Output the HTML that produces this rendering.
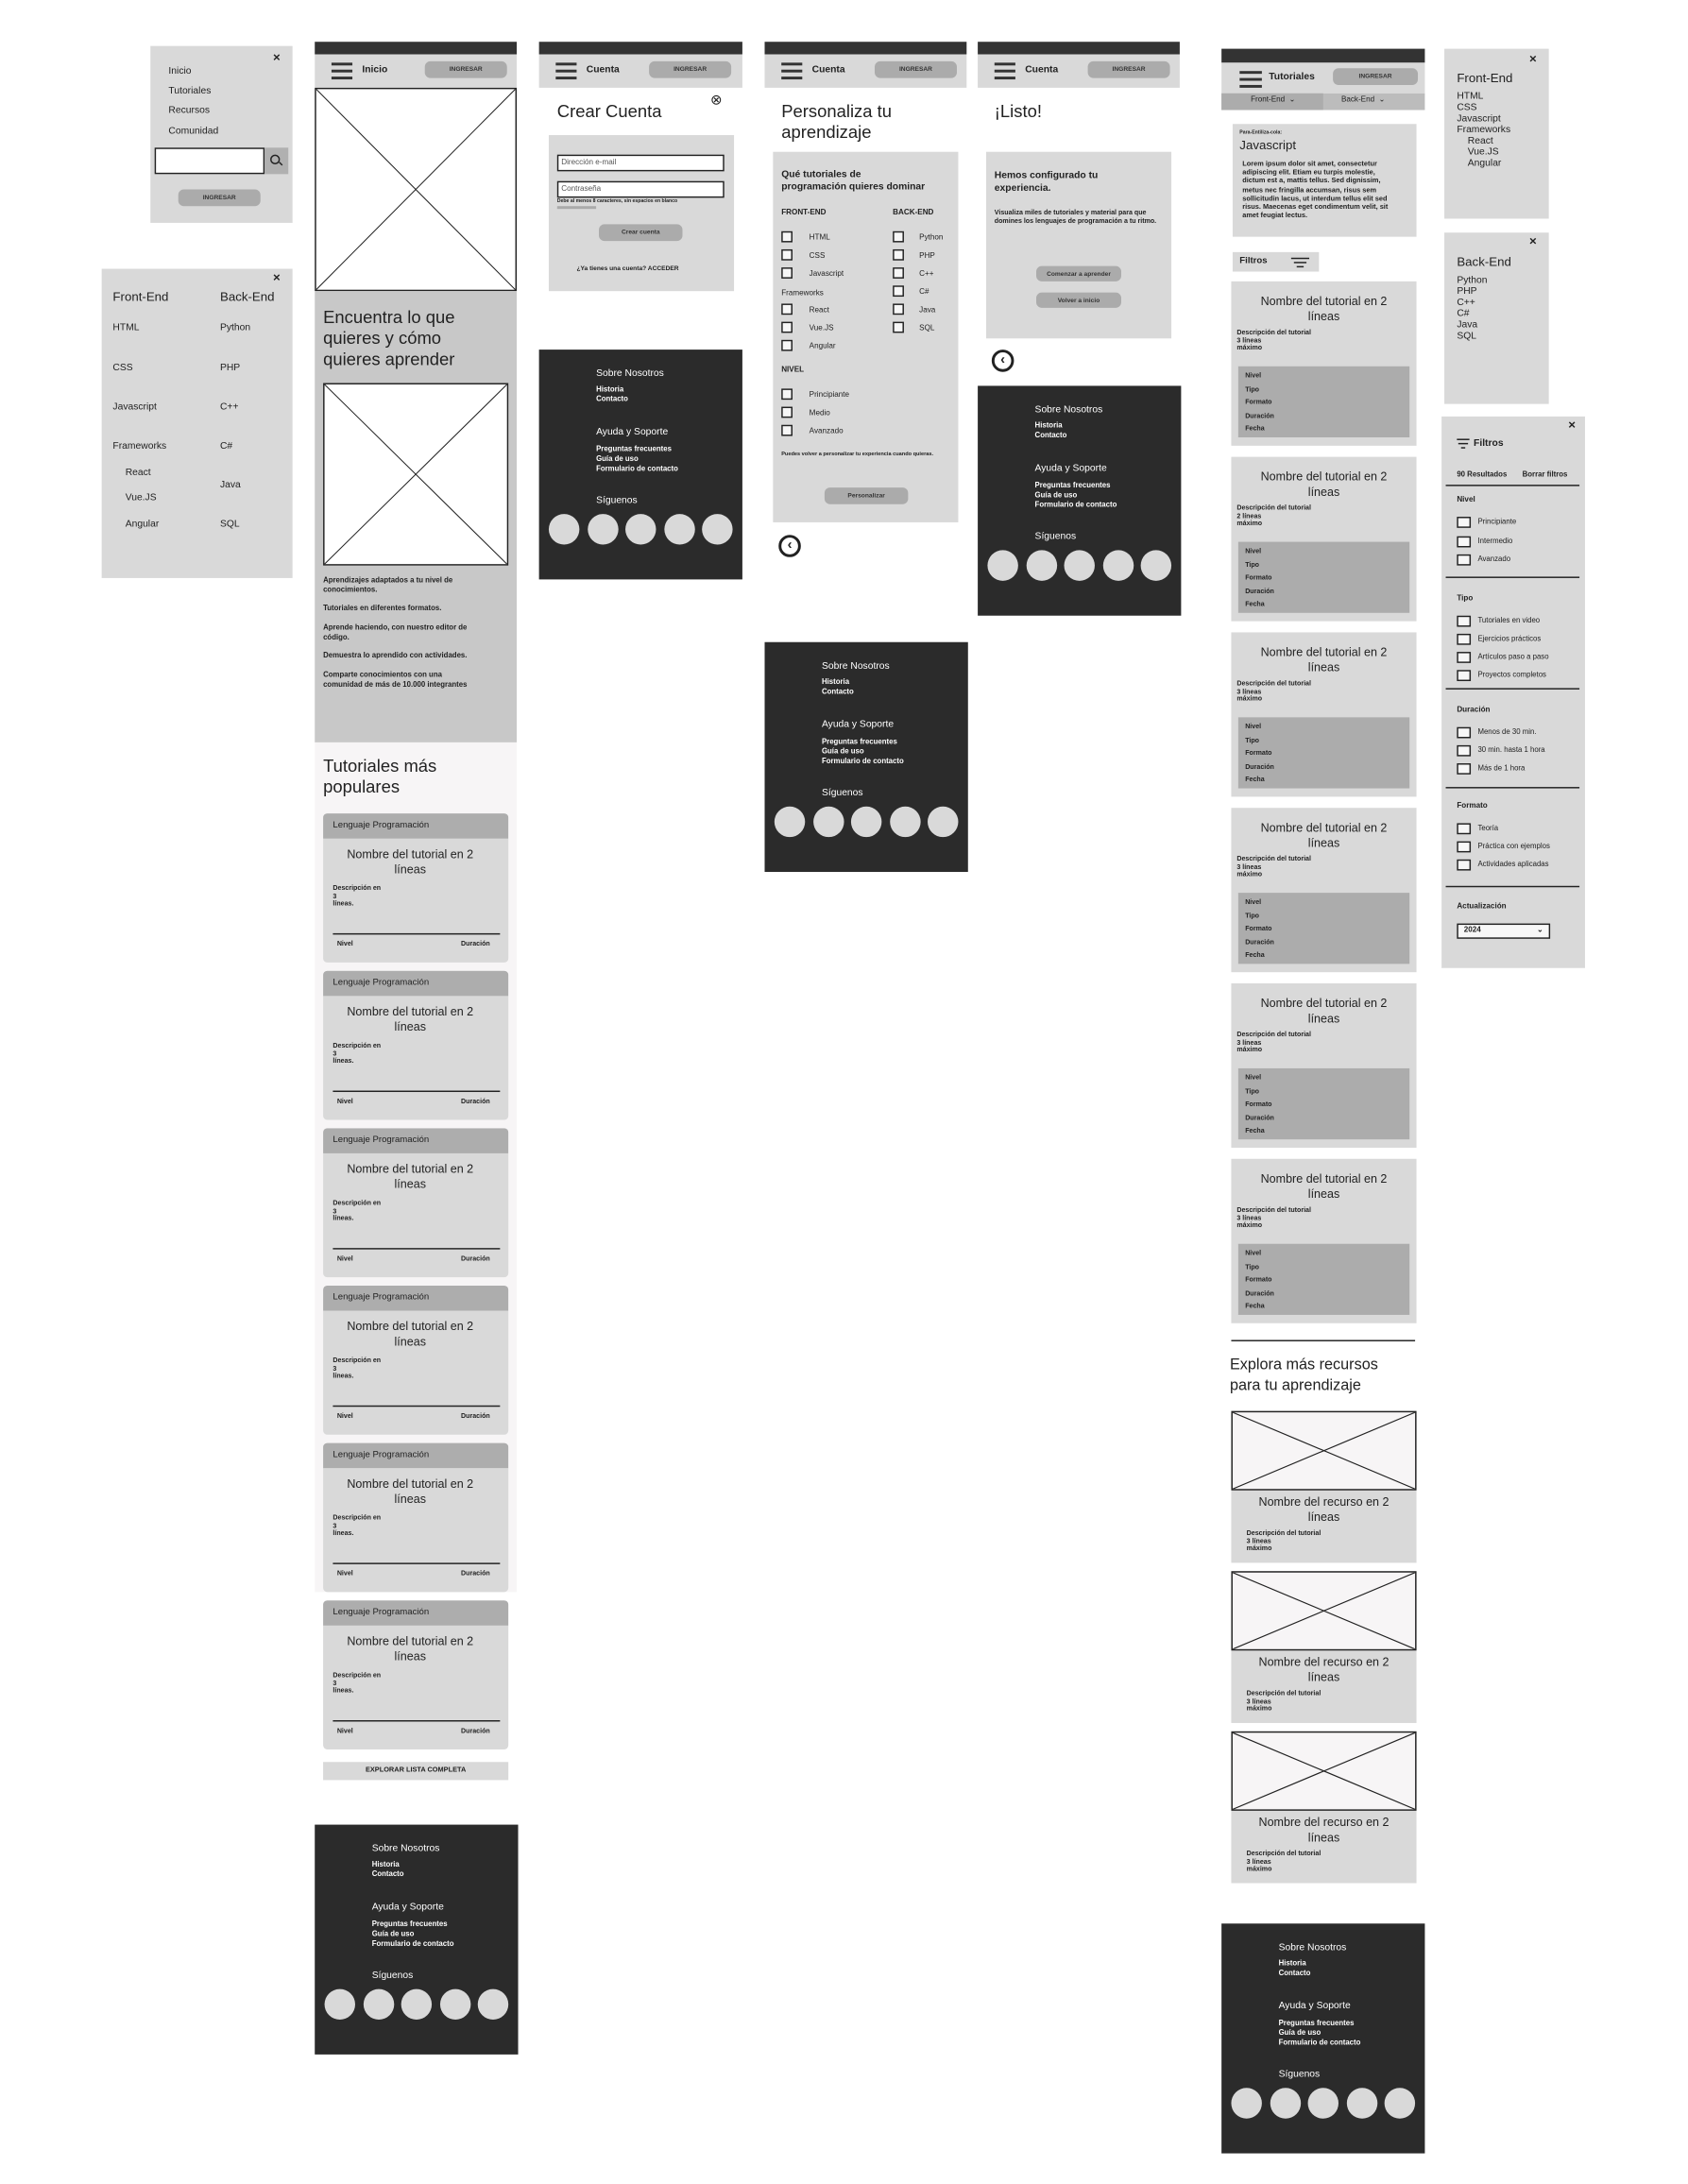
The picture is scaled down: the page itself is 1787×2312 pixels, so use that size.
<!DOCTYPE html>
<html><head><meta charset="utf-8">
<style>
html,body{margin:0;padding:0;background:#fff;}
body{width:1787px;height:2312px;overflow:hidden;position:relative;}
#s{position:absolute;left:0;top:0;width:1212px;height:1568px;transform:scale(1.4745);transform-origin:0 0;font-family:"Liberation Sans",sans-serif;color:#222;}
#s div{position:absolute;box-sizing:border-box;}
.p{background:#d9d9d9;}
.t{white-space:nowrap;line-height:1.15;}
.b{font-weight:bold;}
.btn{background:#ababab;border-radius:4px;text-align:center;font-weight:bold;font-size:4.5px;color:#333;}
.ft{background:#2b2b2b;color:#fff;}
.ft .c{width:22px;height:22px;border-radius:50%;background:#d9d9d9;}
.bar{background:#333;}
.hb{width:15px;height:2px;background:#333;}
.cb{width:8px;height:8px;border:1px solid #222;background:#f7f7f7;}
.x{font-weight:bold;font-size:9px;}
svg{position:absolute;}
</style></head><body><div id="s">

<div class="p" style="left:108px;top:33px;width:102px;height:127px;">
 <div class="t x" style="left:88px;top:3px;">×</div>
 <div class="t" style="left:13px;top:15px;font-size:7px;">Inicio</div>
 <div class="t" style="left:13px;top:29px;font-size:7px;">Tutoriales</div>
 <div class="t" style="left:13px;top:43px;font-size:7px;">Recursos</div>
 <div class="t" style="left:13px;top:58px;font-size:7px;">Comunidad</div>
 <div style="left:3px;top:73px;width:79px;height:19px;background:#fff;border:1px solid #222;"></div>
 <div style="left:82px;top:73px;width:17px;height:19px;background:#b0b0b0;"></div>
 <div style="left:86px;top:78px;width:7px;height:7px;border:1.3px solid #222;border-radius:50%;"></div>
 <div style="left:92px;top:84px;width:3px;height:1.3px;background:#222;transform:rotate(45deg);"></div>
 <div class="btn" style="left:20px;top:103px;width:59px;height:12px;line-height:12px;">INGRESAR</div>
</div>

<div class="p" style="left:73px;top:193px;width:137px;height:222px;font-size:7px;">
 <div class="t x" style="left:123px;top:1px;">×</div>
 <div class="t" style="left:8px;top:15px;font-size:9px;">Front-End</div>
 <div class="t" style="left:85px;top:15px;font-size:9px;">Back-End</div>
 <div class="t" style="left:8px;top:39px;">HTML</div>
 <div class="t" style="left:8px;top:68px;">CSS</div>
 <div class="t" style="left:8px;top:96px;">Javascript</div>
 <div class="t" style="left:8px;top:124px;">Frameworks</div>
 <div class="t" style="left:17px;top:143px;">React</div>
 <div class="t" style="left:17px;top:161px;">Vue.JS</div>
 <div class="t" style="left:17px;top:180px;">Angular</div>
 <div class="t" style="left:85px;top:39px;">Python</div>
 <div class="t" style="left:85px;top:68px;">PHP</div>
 <div class="t" style="left:85px;top:96px;">C++</div>
 <div class="t" style="left:85px;top:124px;">C#</div>
 <div class="t" style="left:85px;top:152px;">Java</div>
 <div class="t" style="left:85px;top:180px;">SQL</div>
</div>

<div class="bar" style="left:226px;top:30px;width:145px;height:9px;"></div>
<div class="p" style="left:226px;top:39px;width:145px;height:24px;">
 <div class="hb" style="left:12px;top:6px;"></div><div class="hb" style="left:12px;top:11px;"></div><div class="hb" style="left:12px;top:16px;"></div>
 <div class="t b" style="left:34px;top:8px;font-size:7px;">Inicio</div>
 <div class="btn" style="left:79px;top:5px;width:59px;height:12px;line-height:12px;">INGRESAR</div>
</div>
<div style="left:226px;top:63px;width:145px;height:146px;background:#fff;border:1px solid #222;">
 <svg width="143" height="144" viewBox="0 0 100 100" preserveAspectRatio="none"><line x1="0" y1="0" x2="100" y2="100" stroke="#222" stroke-width="0.7" vector-effect="non-scaling-stroke"/><line x1="100" y1="0" x2="0" y2="100" stroke="#222" stroke-width="0.7" vector-effect="non-scaling-stroke"/></svg>
</div>
<div style="left:226px;top:209px;width:145px;height:324px;background:#c8c8c8;">
 <div style="left:6px;top:12px;font-size:12.5px;line-height:15px;width:120px;">Encuentra lo que<br>quieres y cómo<br>quieres aprender</div>
 <div style="left:6px;top:66px;width:133px;height:131px;background:#fff;border:1px solid #222;">
  <svg width="131" height="129" viewBox="0 0 100 100" preserveAspectRatio="none"><line x1="0" y1="0" x2="100" y2="100" stroke="#222" stroke-width="0.7" vector-effect="non-scaling-stroke"/><line x1="100" y1="0" x2="0" y2="100" stroke="#222" stroke-width="0.7" vector-effect="non-scaling-stroke"/></svg>
 </div>
 <div class="b" style="left:6px;top:205px;width:112px;font-size:5.3px;line-height:6.8px;">
  Aprendizajes adaptados a tu nivel de conocimientos.<br><br>Tutoriales en diferentes formatos.<br><br>Aprende haciendo, con nuestro editor de código.<br><br>Demuestra lo aprendido con actividades.<br><br>Comparte conocimientos con una comunidad de más de 10.000 integrantes
 </div>
</div>
<div style="left:226px;top:533px;width:145px;height:610px;background:#f7f5f6;">
 <div style="left:6px;top:10px;font-size:12.5px;line-height:15px;">Tutoriales más<br>populares</div>
</div>

<div id="hc"></div>

<div class="p" style="left:232px;top:1265px;width:133px;height:13px;text-align:center;font-size:5px;line-height:13px;font-weight:bold;">EXPLORAR LISTA COMPLETA</div>

<div class="bar" style="left:387px;top:30px;width:146px;height:9px;"></div>
<div class="p" style="left:387px;top:39px;width:146px;height:24px;">
 <div class="hb" style="left:12px;top:6px;"></div><div class="hb" style="left:12px;top:11px;"></div><div class="hb" style="left:12px;top:16px;"></div>
 <div class="t b" style="left:34px;top:8px;font-size:7px;">Cuenta</div>
 <div class="btn" style="left:79px;top:5px;width:59px;height:12px;line-height:12px;">INGRESAR</div>
</div>
<div class="t" style="left:400px;top:73px;font-size:12.5px;">Crear Cuenta</div>
<div class="t" style="left:510px;top:67px;font-size:10px;">⊗</div>
<div class="p" style="left:394px;top:97px;width:133px;height:112px;">
 <div style="left:6px;top:14px;width:120px;height:12px;background:#fff;border:1px solid #222;font-size:5.5px;line-height:10px;padding-left:2px;color:#555;">Dirección e-mail</div>
 <div style="left:6px;top:33px;width:120px;height:12px;background:#fff;border:1px solid #222;font-size:5.5px;line-height:10px;padding-left:2px;color:#555;">Contraseña</div>
 <div class="t b" style="left:6px;top:45px;font-size:3.5px;">Debe al menos 8 caracteres, sin espacios en blanco</div>
 <div style="left:6px;top:51px;width:28px;height:2px;background:#aaa;"></div>
 <div class="btn" style="left:36px;top:64px;width:60px;height:12px;line-height:12px;">Crear cuenta</div>
 <div class="t b" style="left:20px;top:93px;font-size:4.5px;">¿Ya tienes una cuenta? ACCEDER</div>
</div>

<div class="bar" style="left:549px;top:30px;width:145px;height:9px;"></div>
<div class="p" style="left:549px;top:39px;width:145px;height:24px;">
 <div class="hb" style="left:12px;top:6px;"></div><div class="hb" style="left:12px;top:11px;"></div><div class="hb" style="left:12px;top:16px;"></div>
 <div class="t b" style="left:34px;top:8px;font-size:7px;">Cuenta</div>
 <div class="btn" style="left:79px;top:5px;width:59px;height:12px;line-height:12px;">INGRESAR</div>
</div>
<div style="left:561px;top:73px;font-size:12.5px;line-height:15px;">Personaliza tu<br>aprendizaje</div>
<div class="p" style="left:555px;top:109px;width:133px;height:266px;font-size:5.5px;">
 <div class="b" style="left:6px;top:13px;font-size:7px;line-height:8.5px;">Qué tutoriales de<br>programación quieres dominar</div>
 <div class="t b" style="left:6px;top:41px;">FRONT-END</div>
 <div class="t b" style="left:86px;top:41px;">BACK-END</div>
 <div class="cb" style="left:6px;top:57px;"></div><div class="t" style="left:26px;top:59px;">HTML</div>
 <div class="cb" style="left:6px;top:70px;"></div><div class="t" style="left:26px;top:72px;">CSS</div>
 <div class="cb" style="left:6px;top:83px;"></div><div class="t" style="left:26px;top:85px;">Javascript</div>
 <div class="t" style="left:6px;top:99px;">Frameworks</div>
 <div class="cb" style="left:6px;top:109px;"></div><div class="t" style="left:26px;top:111px;">React</div>
 <div class="cb" style="left:6px;top:122px;"></div><div class="t" style="left:26px;top:124px;">Vue.JS</div>
 <div class="cb" style="left:6px;top:135px;"></div><div class="t" style="left:26px;top:137px;">Angular</div>
 <div class="cb" style="left:86px;top:57px;"></div><div class="t" style="left:105px;top:59px;">Python</div>
 <div class="cb" style="left:86px;top:70px;"></div><div class="t" style="left:105px;top:72px;">PHP</div>
 <div class="cb" style="left:86px;top:83px;"></div><div class="t" style="left:105px;top:85px;">C++</div>
 <div class="cb" style="left:86px;top:96px;"></div><div class="t" style="left:105px;top:98px;">C#</div>
 <div class="cb" style="left:86px;top:109px;"></div><div class="t" style="left:105px;top:111px;">Java</div>
 <div class="cb" style="left:86px;top:122px;"></div><div class="t" style="left:105px;top:124px;">SQL</div>
 <div class="t b" style="left:6px;top:154px;">NIVEL</div>
 <div class="cb" style="left:6px;top:170px;"></div><div class="t" style="left:26px;top:172px;">Principiante</div>
 <div class="cb" style="left:6px;top:183px;"></div><div class="t" style="left:26px;top:185px;">Medio</div>
 <div class="cb" style="left:6px;top:196px;"></div><div class="t" style="left:26px;top:198px;">Avanzado</div>
 <div class="b" style="left:6px;top:215px;font-size:3.8px;line-height:5px;width:125px;">Puedes volver a personalizar tu experiencia cuando quieras.</div>
 <div class="btn" style="left:37px;top:241px;width:60px;height:12px;line-height:12px;">Personalizar</div>
</div>
<div style="left:559px;top:384px;width:16px;height:16px;border:2px solid #222;border-radius:50%;font-size:10px;line-height:11px;text-align:center;font-weight:bold;">‹</div>

<div class="bar" style="left:702px;top:30px;width:145px;height:9px;"></div>
<div class="p" style="left:702px;top:39px;width:145px;height:24px;">
 <div class="hb" style="left:12px;top:6px;"></div><div class="hb" style="left:12px;top:11px;"></div><div class="hb" style="left:12px;top:16px;"></div>
 <div class="t b" style="left:34px;top:8px;font-size:7px;">Cuenta</div>
 <div class="btn" style="left:79px;top:5px;width:59px;height:12px;line-height:12px;">INGRESAR</div>
</div>
<div class="t" style="left:714px;top:73px;font-size:12.5px;">¡Listo!</div>
<div class="p" style="left:708px;top:109px;width:133px;height:134px;">
 <div class="b" style="left:6px;top:14px;font-size:7px;line-height:8.5px;">Hemos configurado tu<br>experiencia.</div>
 <div class="b" style="left:6px;top:42px;font-size:4.8px;line-height:5.9px;width:124px;">Visualiza miles de tutoriales y material para que domines los lenguajes de programación a tu ritmo.</div>
 <div class="btn" style="left:36px;top:82px;width:61px;height:11px;line-height:11px;">Comenzar a aprender</div>
 <div class="btn" style="left:36px;top:101px;width:61px;height:11px;line-height:11px;">Volver a inicio</div>
</div>
<div style="left:712px;top:251px;width:16px;height:16px;border:2px solid #222;border-radius:50%;font-size:10px;line-height:11px;text-align:center;font-weight:bold;">‹</div>

<div class="bar" style="left:877px;top:35px;width:146px;height:10px;"></div>
<div class="p" style="left:877px;top:45px;width:146px;height:22px;">
 <div class="hb" style="left:13px;top:6px;width:16px;"></div><div class="hb" style="left:13px;top:11px;width:16px;"></div><div class="hb" style="left:13px;top:16px;width:16px;"></div>
 <div class="t b" style="left:34px;top:7px;font-size:7px;">Tutoriales</div>
 <div class="btn" style="left:80px;top:4px;width:61px;height:12px;line-height:12px;">INGRESAR</div>
</div>
<div style="left:877px;top:67px;width:146px;height:12px;background:#bcbcbc;">
 <div style="left:0;top:0;width:73px;height:12px;background:#acacac;"></div>
 <div class="t" style="left:21px;top:2px;font-size:5.5px;">Front-End &nbsp;⌄</div>
 <div class="t" style="left:86px;top:2px;font-size:5.5px;">Back-End &nbsp;⌄</div>
</div>
<div class="p" style="left:885px;top:89px;width:132px;height:81px;">
 <div class="t b" style="left:5px;top:4px;font-size:3.5px;">Para-Entiliza-cola:</div>
 <div class="t" style="left:5px;top:10px;font-size:9px;">Javascript</div>
 <div class="b" style="left:7px;top:26px;font-size:5px;line-height:6.2px;width:112px;">Lorem ipsum dolor sit amet, consectetur adipiscing elit. Etiam eu turpis molestie, dictum est a, mattis tellus. Sed dignissim, metus nec fringilla accumsan, risus sem sollicitudin lacus, ut interdum tellus elit sed risus. Maecenas eget condimentum velit, sit amet feugiat lectus.</div>
</div>
<div class="p" style="left:885px;top:181px;width:62px;height:14px;">
 <div class="t b" style="left:5px;top:3px;font-size:6.5px;">Filtros</div>
 <div style="left:42px;top:4px;width:13px;height:1.2px;background:#222;"></div>
 <div style="left:44px;top:7px;width:9px;height:1.2px;background:#222;"></div>
 <div style="left:46px;top:10px;width:5px;height:1.2px;background:#222;"></div>
</div>
<div id="tc"></div>

<div style="left:884px;top:962px;width:132px;height:1px;background:#222;"></div>
<div style="left:883px;top:973px;font-size:11px;line-height:14.5px;">Explora más recursos<br>para tu aprendizaje</div>
<div id="rc"></div>

<div class="p" style="left:1037px;top:35px;width:75px;height:122px;font-size:7px;line-height:8px;">
 <div class="t x" style="left:61px;top:2px;">×</div>
 <div class="t" style="left:9px;top:16px;font-size:9px;">Front-End</div>
 <div style="left:9px;top:31px;">HTML<br>CSS<br>Javascript<br>Frameworks<br>&nbsp;&nbsp;&nbsp;&nbsp;React<br>&nbsp;&nbsp;&nbsp;&nbsp;Vue.JS<br>&nbsp;&nbsp;&nbsp;&nbsp;Angular</div>
</div>
<div class="p" style="left:1037px;top:167px;width:75px;height:123px;font-size:7px;line-height:8px;">
 <div class="t x" style="left:61px;top:1px;">×</div>
 <div class="t" style="left:9px;top:16px;font-size:9px;">Back-End</div>
 <div style="left:9px;top:31px;">Python<br>PHP<br>C++<br>C#<br>Java<br>SQL</div>
</div>

<div class="p" style="left:1035px;top:299px;width:103px;height:396px;font-size:5.3px;">
 <div class="t x" style="left:91px;top:1px;">×</div>
 <div style="left:11px;top:16px;width:9px;height:1.2px;background:#222;"></div>
 <div style="left:12px;top:19px;width:7px;height:1.2px;background:#222;"></div>
 <div style="left:14px;top:22px;width:3px;height:1.2px;background:#222;"></div>
 <div class="t b" style="left:23px;top:16px;font-size:7px;">Filtros</div>
 <div class="t b" style="left:11px;top:39px;">90 Resultados</div>
 <div class="t b" style="left:58px;top:39px;">Borrar filtros</div>
 <div style="left:3px;top:49px;width:96px;height:1px;background:#222;"></div>
 <div class="t b" style="left:11px;top:57px;font-size:5.5px;">Nivel</div>
 <div class="cb" style="left:11px;top:72px;width:10px;height:8px;"></div><div class="t" style="left:26px;top:73px;">Principiante</div>
 <div class="cb" style="left:11px;top:86px;width:10px;height:8px;"></div><div class="t" style="left:26px;top:87px;">Intermedio</div>
 <div class="cb" style="left:11px;top:99px;width:10px;height:8px;"></div><div class="t" style="left:26px;top:100px;">Avanzado</div>
 <div style="left:3px;top:115px;width:96px;height:1px;background:#222;"></div>
 <div class="t b" style="left:11px;top:128px;font-size:5.5px;">Tipo</div>
 <div class="cb" style="left:11px;top:143px;width:10px;height:8px;"></div><div class="t" style="left:26px;top:144px;">Tutoriales en video</div>
 <div class="cb" style="left:11px;top:156px;width:10px;height:8px;"></div><div class="t" style="left:26px;top:157px;">Ejercicios prácticos</div>
 <div class="cb" style="left:11px;top:169px;width:10px;height:8px;"></div><div class="t" style="left:26px;top:170px;">Artículos paso a paso</div>
 <div class="cb" style="left:11px;top:182px;width:10px;height:8px;"></div><div class="t" style="left:26px;top:183px;">Proyectos completos</div>
 <div style="left:3px;top:195px;width:96px;height:1px;background:#222;"></div>
 <div class="t b" style="left:11px;top:208px;font-size:5.5px;">Duración</div>
 <div class="cb" style="left:11px;top:223px;width:10px;height:8px;"></div><div class="t" style="left:26px;top:224px;">Menos de 30 min.</div>
 <div class="cb" style="left:11px;top:236px;width:10px;height:8px;"></div><div class="t" style="left:26px;top:237px;">30 min. hasta 1 hora</div>
 <div class="cb" style="left:11px;top:249px;width:10px;height:8px;"></div><div class="t" style="left:26px;top:250px;">Más de 1 hora</div>
 <div style="left:3px;top:266px;width:96px;height:1px;background:#222;"></div>
 <div class="t b" style="left:11px;top:277px;font-size:5.5px;">Formato</div>
 <div class="cb" style="left:11px;top:292px;width:10px;height:8px;"></div><div class="t" style="left:26px;top:293px;">Teoría</div>
 <div class="cb" style="left:11px;top:305px;width:10px;height:8px;"></div><div class="t" style="left:26px;top:306px;">Práctica con ejemplos</div>
 <div class="cb" style="left:11px;top:318px;width:10px;height:8px;"></div><div class="t" style="left:26px;top:319px;">Actividades aplicadas</div>
 <div style="left:3px;top:337px;width:96px;height:1px;background:#222;"></div>
 <div class="t b" style="left:11px;top:349px;font-size:5.5px;">Actualización</div>
 <div style="left:11px;top:364px;width:67px;height:11px;border:1.3px solid #222;background:#f7f7f7;font-size:5.5px;line-height:8px;padding-left:4px;font-weight:bold;">2024<span style="position:absolute;right:4px;top:0;">⌄</span></div>
</div>

<div id="ff"></div>

</div>
<script>
function foot(x,y){return `<div class="ft" style="left:${x}px;top:${y}px;width:146px;height:165px;">
<div class="t" style="left:41px;top:14px;font-size:7px;">Sobre Nosotros</div>
<div class="b" style="left:41px;top:26px;font-size:5.3px;line-height:6.5px;">Historia<br>Contacto</div>
<div class="t" style="left:41px;top:56px;font-size:7px;">Ayuda y Soporte</div>
<div class="b" style="left:41px;top:69px;font-size:5.3px;line-height:7px;">Preguntas frecuentes<br>Guía de uso<br>Formulario de contacto</div>
<div class="t" style="left:41px;top:105px;font-size:7px;">Síguenos</div>
<div class="c" style="left:7px;top:118px;"></div><div class="c" style="left:34.5px;top:118px;"></div><div class="c" style="left:62px;top:118px;"></div><div class="c" style="left:89.5px;top:118px;"></div><div class="c" style="left:117px;top:118px;"></div>
</div>`;}
var s=document.getElementById('s');
var h='';
h+=foot(226,1310)+foot(387,251)+foot(549,461)+foot(702,277)+foot(877,1381);
[584,697,810,923,1036,1149].forEach(function(y){
h+=`<div style="left:232px;top:${y}px;width:133px;height:107px;background:#d9d9d9;border-radius:3px;overflow:hidden;">
<div style="left:0;top:0;width:133px;height:18px;background:#adadad;"></div>
<div class="t" style="left:7px;top:5px;font-size:6.5px;">Lenguaje Programación</div>
<div style="left:-4px;top:24px;width:133px;text-align:center;font-size:8.5px;line-height:10.5px;">Nombre del tutorial en 2<br>líneas</div>
<div class="b" style="left:7px;top:52px;font-size:4.8px;line-height:5.7px;">Descripción en<br>3<br>líneas.</div>
<div style="left:7px;top:86px;width:120px;height:1px;background:#222;"></div>
<div class="t b" style="left:10px;top:92px;font-size:4.8px;">Nivel</div>
<div class="t b" style="left:99px;top:92px;font-size:4.8px;">Duración</div>
</div>`;});
[202,328,454,580,706,832].forEach(function(y,i){
h+=`<div style="left:884px;top:${y}px;width:133px;height:118px;background:#d9d9d9;">
<div style="left:0;top:9px;width:133px;text-align:center;font-size:8.5px;line-height:11px;">Nombre del tutorial en 2<br>líneas</div>
<div class="b" style="left:4px;top:35px;font-size:4.8px;line-height:5.7px;">Descripción del tutorial<br>${i==1?2:3} líneas<br>máximo</div>
<div style="left:5px;top:61px;width:123px;height:51px;background:#acacac;"></div>
<div class="b" style="left:10px;top:64px;font-size:4.8px;line-height:9.6px;">Nivel<br>Tipo<br>Formato<br>Duración<br>Fecha</div>
</div>`;});
[1013,1128,1243].forEach(function(y){
h+=`<div style="left:884px;top:${y}px;width:133px;height:109px;background:#d9d9d9;">
<div style="left:0;top:0;width:133px;height:57px;background:#f7f5f6;border:1px solid #222;">
<svg width="131" height="55" viewBox="0 0 100 100" preserveAspectRatio="none"><line x1="0" y1="0" x2="100" y2="100" stroke="#222" stroke-width="0.8" vector-effect="non-scaling-stroke"/><line x1="100" y1="0" x2="0" y2="100" stroke="#222" stroke-width="0.8" vector-effect="non-scaling-stroke"/></svg></div>
<div style="left:0;top:60px;width:133px;text-align:center;font-size:8.5px;line-height:11px;">Nombre del recurso en 2<br>líneas</div>
<div class="b" style="left:11px;top:86px;font-size:4.8px;line-height:5.7px;">Descripción del tutorial<br>3 líneas<br>máximo</div>
</div>`;});
s.insertAdjacentHTML('beforeend',h);
</script>
</body></html>
